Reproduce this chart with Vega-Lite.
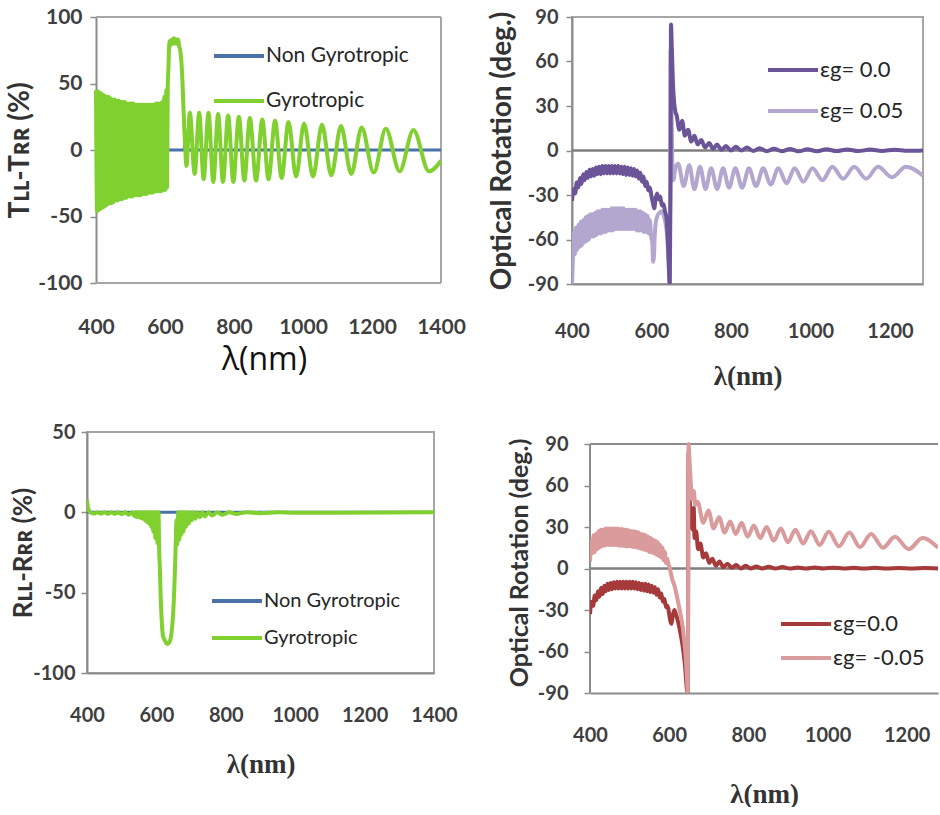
{
"$schema":"https://vega.github.io/schema/vega-lite/v6.json",
"background":"white",
"padding":{"left":6,"top":6,"right":0,"bottom":0},
"config":{
 "font":"Lato",
 "view":{"stroke":"#a6a6a6","strokeWidth":2},
 "axis":{"grid":false,"domainColor":"#8c8c8c","domainWidth":2,"tickColor":"#8c8c8c","tickWidth":1.5,"labelFont":"Lato","labelFontWeight":"bold","labelColor":"#3f3f3f","titleColor":"#333333","titleFont":"Lato","labelExpr":"'' + datum.value"},
 "legend":{"labelFont":"Lato","labelColor":"#262626"},
 "line":{"strokeJoin":"round"}
},
"datasets":{
"p1n":[{"x":400,"y":0,"s":"N"},{"x":656,"y":0,"s":"N"},{"x":657.5,"y":15,"s":"N"},{"x":659,"y":0,"s":"N"},{"x":1400,"y":0,"s":"N"}],
"p1g":[{"x":400,"y":45,"s":"G"},{"x":403,"y":-46,"s":"G"},{"x":406,"y":44,"s":"G"},{"x":409,"y":-45,"s":"G"},{"x":412,"y":43,"s":"G"},{"x":415,"y":-44,"s":"G"},{"x":418,"y":42,"s":"G"},{"x":421,"y":-43,"s":"G"},{"x":424,"y":41,"s":"G"},{"x":427,"y":-42,"s":"G"},{"x":430,"y":40,"s":"G"},{"x":433,"y":-41,"s":"G"},{"x":436,"y":40,"s":"G"},{"x":439,"y":-40,"s":"G"},{"x":442,"y":39,"s":"G"},{"x":445,"y":-40,"s":"G"},{"x":448,"y":38,"s":"G"},{"x":451,"y":-39,"s":"G"},{"x":454,"y":38,"s":"G"},{"x":457,"y":-38,"s":"G"},{"x":460,"y":37,"s":"G"},{"x":463,"y":-38,"s":"G"},{"x":466,"y":37,"s":"G"},{"x":469,"y":-37,"s":"G"},{"x":472,"y":36,"s":"G"},{"x":475,"y":-37,"s":"G"},{"x":478,"y":36,"s":"G"},{"x":481,"y":-36,"s":"G"},{"x":484,"y":36,"s":"G"},{"x":487,"y":-36,"s":"G"},{"x":490,"y":35,"s":"G"},{"x":493,"y":-35,"s":"G"},{"x":496,"y":35,"s":"G"},{"x":499,"y":-35,"s":"G"},{"x":502,"y":35,"s":"G"},{"x":505,"y":-35,"s":"G"},{"x":508,"y":35,"s":"G"},{"x":511,"y":-34,"s":"G"},{"x":514,"y":34,"s":"G"},{"x":517,"y":-34,"s":"G"},{"x":520,"y":34,"s":"G"},{"x":523,"y":-34,"s":"G"},{"x":526,"y":34,"s":"G"},{"x":529,"y":-34,"s":"G"},{"x":532,"y":34,"s":"G"},{"x":535,"y":-33,"s":"G"},{"x":538,"y":34,"s":"G"},{"x":541,"y":-33,"s":"G"},{"x":544,"y":34,"s":"G"},{"x":547,"y":-33,"s":"G"},{"x":550,"y":34,"s":"G"},{"x":553,"y":-32,"s":"G"},{"x":556,"y":34,"s":"G"},{"x":559,"y":-32,"s":"G"},{"x":562,"y":34,"s":"G"},{"x":565,"y":-32,"s":"G"},{"x":568,"y":34,"s":"G"},{"x":571,"y":-31,"s":"G"},{"x":574,"y":35,"s":"G"},{"x":577,"y":-31,"s":"G"},{"x":580,"y":35,"s":"G"},{"x":583,"y":-31,"s":"G"},{"x":586,"y":35,"s":"G"},{"x":589,"y":-31,"s":"G"},{"x":592,"y":36,"s":"G"},{"x":595,"y":-30,"s":"G"},{"x":598,"y":40,"s":"G"},{"x":601,"y":-30,"s":"G"},{"x":604,"y":45,"s":"G"},{"x":606,"y":-28,"s":"G"},{"x":608,"y":48,"s":"G"},{"x":610,"y":62,"s":"G"},{"x":612,"y":78,"s":"G"},{"x":614,"y":82,"s":"G"},{"x":617,"y":79,"s":"G"},{"x":620,"y":83,"s":"G"},{"x":623,"y":80,"s":"G"},{"x":626,"y":84,"s":"G"},{"x":629,"y":80,"s":"G"},{"x":632,"y":83,"s":"G"},{"x":635,"y":80,"s":"G"},{"x":638,"y":83,"s":"G"},{"x":641,"y":78,"s":"G"},{"x":644,"y":75,"s":"G"},{"x":647,"y":68,"s":"G"},{"x":650,"y":55,"s":"G"},{"x":653,"y":35,"s":"G"},{"x":656,"y":15,"s":"G"},{"x":659,"y":0,"s":"G"},{"x":662,"y":-12,"s":"G"},{"x":672,"y":28,"s":"G"},{"x":686,"y":-18,"s":"G"},{"x":699,"y":28,"s":"G"},{"x":712,"y":-22,"s":"G"},{"x":726,"y":28,"s":"G"},{"x":740,"y":-24,"s":"G"},{"x":754,"y":27,"s":"G"},{"x":768,"y":-24,"s":"G"},{"x":783,"y":26,"s":"G"},{"x":798,"y":-24,"s":"G"},{"x":814,"y":25,"s":"G"},{"x":830,"y":-23,"s":"G"},{"x":846,"y":24,"s":"G"},{"x":864,"y":-23,"s":"G"},{"x":882,"y":23,"s":"G"},{"x":900,"y":-22,"s":"G"},{"x":919,"y":22,"s":"G"},{"x":938,"y":-21,"s":"G"},{"x":958,"y":21,"s":"G"},{"x":980,"y":-20,"s":"G"},{"x":1003,"y":20,"s":"G"},{"x":1029,"y":-20,"s":"G"},{"x":1055,"y":19,"s":"G"},{"x":1082,"y":-19,"s":"G"},{"x":1110,"y":18,"s":"G"},{"x":1140,"y":-18,"s":"G"},{"x":1170,"y":17,"s":"G"},{"x":1205,"y":-17,"s":"G"},{"x":1240,"y":16,"s":"G"},{"x":1280,"y":-16,"s":"G"},{"x":1320,"y":15,"s":"G"},{"x":1365,"y":-16,"s":"G"},{"x":1400,"y":-8,"s":"G"}],
"p3n":[{"x":400,"y":0,"s":"N"},{"x":1400,"y":0,"s":"N"}],
"p3g":[{"x":400,"y":8,"s":"G"},{"x":402,"y":4,"s":"G"},{"x":405,"y":1.5,"s":"G"},{"x":410,"y":0,"s":"G"},{"x":420,"y":-0.8,"s":"G"},{"x":430,"y":0,"s":"G"},{"x":440,"y":-0.8,"s":"G"},{"x":450,"y":0,"s":"G"},{"x":460,"y":-1,"s":"G"},{"x":470,"y":0,"s":"G"},{"x":480,"y":-1,"s":"G"},{"x":490,"y":0,"s":"G"},{"x":500,"y":-1.2,"s":"G"},{"x":510,"y":0,"s":"G"},{"x":520,"y":-1.5,"s":"G"},{"x":530,"y":0,"s":"G"},{"x":537,"y":-2.5,"s":"G"},{"x":540,"y":0,"s":"G"},{"x":543,"y":-3,"s":"G"},{"x":546,"y":0,"s":"G"},{"x":549,"y":-3,"s":"G"},{"x":552,"y":0,"s":"G"},{"x":555,"y":-3.5,"s":"G"},{"x":558,"y":0,"s":"G"},{"x":561,"y":-4,"s":"G"},{"x":564,"y":0,"s":"G"},{"x":567,"y":-5,"s":"G"},{"x":570,"y":0,"s":"G"},{"x":573,"y":-6,"s":"G"},{"x":576,"y":0,"s":"G"},{"x":579,"y":-7,"s":"G"},{"x":582,"y":0,"s":"G"},{"x":585,"y":-9,"s":"G"},{"x":588,"y":0,"s":"G"},{"x":591,"y":-12,"s":"G"},{"x":594,"y":0,"s":"G"},{"x":597,"y":-16,"s":"G"},{"x":600,"y":0,"s":"G"},{"x":603,"y":-19,"s":"G"},{"x":606,"y":0,"s":"G"},{"x":608,"y":-24,"s":"G"},{"x":610,"y":-35,"s":"G"},{"x":612,"y":-50,"s":"G"},{"x":615,"y":-66,"s":"G"},{"x":619,"y":-77,"s":"G"},{"x":625,"y":-80,"s":"G"},{"x":631,"y":-82,"s":"G"},{"x":637,"y":-81,"s":"G"},{"x":643,"y":-76,"s":"G"},{"x":648,"y":-64,"s":"G"},{"x":652,"y":-45,"s":"G"},{"x":655,"y":-25,"s":"G"},{"x":658,"y":-5,"s":"G"},{"x":660,"y":-20,"s":"G"},{"x":663,"y":0,"s":"G"},{"x":666,"y":-17,"s":"G"},{"x":669,"y":0,"s":"G"},{"x":672,"y":-14,"s":"G"},{"x":675,"y":0,"s":"G"},{"x":678,"y":-12,"s":"G"},{"x":681,"y":0,"s":"G"},{"x":685,"y":-9,"s":"G"},{"x":689,"y":0,"s":"G"},{"x":693,"y":-7,"s":"G"},{"x":697,"y":0,"s":"G"},{"x":702,"y":-5,"s":"G"},{"x":707,"y":0,"s":"G"},{"x":712,"y":-4,"s":"G"},{"x":718,"y":0,"s":"G"},{"x":725,"y":-3,"s":"G"},{"x":732,"y":0,"s":"G"},{"x":740,"y":-2.5,"s":"G"},{"x":750,"y":0,"s":"G"},{"x":760,"y":-2,"s":"G"},{"x":775,"y":0,"s":"G"},{"x":790,"y":-1.5,"s":"G"},{"x":810,"y":0,"s":"G"},{"x":830,"y":-1,"s":"G"},{"x":860,"y":0,"s":"G"},{"x":900,"y":-0.6,"s":"G"},{"x":950,"y":0,"s":"G"},{"x":1000,"y":-0.3,"s":"G"},{"x":1400,"y":0,"s":"G"}],
"p2a":[{"x":400,"y":-34,"s":"a"},{"x":404,"y":-26,"s":"a"},{"x":408,"y":-29,"s":"a"},{"x":412,"y":-21.5,"s":"a"},{"x":416,"y":-25,"s":"a"},{"x":420,"y":-18.5,"s":"a"},{"x":424,"y":-22.5,"s":"a"},{"x":428,"y":-16,"s":"a"},{"x":432,"y":-20,"s":"a"},{"x":436,"y":-14.5,"s":"a"},{"x":440,"y":-18.5,"s":"a"},{"x":444,"y":-13,"s":"a"},{"x":448,"y":-17.5,"s":"a"},{"x":452,"y":-12.5,"s":"a"},{"x":456,"y":-17,"s":"a"},{"x":460,"y":-11.5,"s":"a"},{"x":464,"y":-16,"s":"a"},{"x":468,"y":-11,"s":"a"},{"x":472,"y":-16,"s":"a"},{"x":476,"y":-10.5,"s":"a"},{"x":480,"y":-15.5,"s":"a"},{"x":484,"y":-10.5,"s":"a"},{"x":488,"y":-15.5,"s":"a"},{"x":492,"y":-10.5,"s":"a"},{"x":496,"y":-15.5,"s":"a"},{"x":500,"y":-10.5,"s":"a"},{"x":504,"y":-15.5,"s":"a"},{"x":508,"y":-10.5,"s":"a"},{"x":512,"y":-15.5,"s":"a"},{"x":516,"y":-10.5,"s":"a"},{"x":520,"y":-15.5,"s":"a"},{"x":524,"y":-11,"s":"a"},{"x":528,"y":-16,"s":"a"},{"x":532,"y":-11,"s":"a"},{"x":536,"y":-16.5,"s":"a"},{"x":540,"y":-11.5,"s":"a"},{"x":544,"y":-16.5,"s":"a"},{"x":548,"y":-12,"s":"a"},{"x":552,"y":-17,"s":"a"},{"x":556,"y":-12.5,"s":"a"},{"x":560,"y":-17.5,"s":"a"},{"x":564,"y":-13.5,"s":"a"},{"x":568,"y":-19,"s":"a"},{"x":572,"y":-15,"s":"a"},{"x":576,"y":-21,"s":"a"},{"x":580,"y":-17.5,"s":"a"},{"x":584,"y":-24,"s":"a"},{"x":588,"y":-21,"s":"a"},{"x":592,"y":-27,"s":"a"},{"x":596,"y":-25,"s":"a"},{"x":600,"y":-31,"s":"a"},{"x":604,"y":-36,"s":"a"},{"x":607,"y":-39,"s":"a"},{"x":610,"y":-33,"s":"a"},{"x":614,"y":-29,"s":"a"},{"x":618,"y":-33,"s":"a"},{"x":622,"y":-31,"s":"a"},{"x":626,"y":-37,"s":"a"},{"x":630,"y":-36,"s":"a"},{"x":634,"y":-41,"s":"a"},{"x":638,"y":-46,"s":"a"},{"x":641,"y":-60,"s":"a"},{"x":644,"y":-80,"s":"a"},{"x":646,"y":-90,"s":"a"},{"x":648,"y":-20,"s":"a"},{"x":649,"y":85,"s":"a"},{"x":651,"y":70,"s":"a"},{"x":654,"y":45,"s":"a"},{"x":657,"y":32,"s":"a"},{"x":660,"y":26,"s":"a"},{"x":663,"y":24,"s":"a"},{"x":670,"y":14,"s":"a"},{"x":677,"y":20,"s":"a"},{"x":684,"y":10,"s":"a"},{"x":692,"y":14,"s":"a"},{"x":700,"y":6,"s":"a"},{"x":708,"y":10,"s":"a"},{"x":716,"y":4,"s":"a"},{"x":725,"y":7,"s":"a"},{"x":735,"y":2,"s":"a"},{"x":745,"y":5,"s":"a"},{"x":755,"y":1,"s":"a"},{"x":765,"y":4,"s":"a"},{"x":776,"y":0.5,"s":"a"},{"x":787,"y":3,"s":"a"},{"x":800,"y":0,"s":"a"},{"x":812,"y":2.5,"s":"a"},{"x":826,"y":0,"s":"a"},{"x":840,"y":2,"s":"a"},{"x":856,"y":-0.3,"s":"a"},{"x":872,"y":1.5,"s":"a"},{"x":890,"y":-0.5,"s":"a"},{"x":908,"y":1.2,"s":"a"},{"x":928,"y":-0.5,"s":"a"},{"x":948,"y":1,"s":"a"},{"x":970,"y":-0.5,"s":"a"},{"x":992,"y":0.8,"s":"a"},{"x":1016,"y":-0.5,"s":"a"},{"x":1040,"y":0.8,"s":"a"},{"x":1066,"y":-0.4,"s":"a"},{"x":1092,"y":0.7,"s":"a"},{"x":1120,"y":-0.4,"s":"a"},{"x":1150,"y":0.6,"s":"a"},{"x":1180,"y":-0.3,"s":"a"},{"x":1212,"y":0.5,"s":"a"},{"x":1245,"y":-0.2,"s":"a"},{"x":1283,"y":0,"s":"a"}],
"p2b":[{"x":400,"y":-90,"s":"b"},{"x":402,"y":-76,"s":"b"},{"x":404,"y":-56,"s":"b"},{"x":407,"y":-70,"s":"b"},{"x":410,"y":-52,"s":"b"},{"x":413,"y":-67,"s":"b"},{"x":416,"y":-50,"s":"b"},{"x":419,"y":-65,"s":"b"},{"x":422,"y":-48,"s":"b"},{"x":425,"y":-64,"s":"b"},{"x":428,"y":-47,"s":"b"},{"x":431,"y":-62,"s":"b"},{"x":434,"y":-45,"s":"b"},{"x":437,"y":-61,"s":"b"},{"x":440,"y":-44,"s":"b"},{"x":443,"y":-60,"s":"b"},{"x":446,"y":-43,"s":"b"},{"x":449,"y":-58,"s":"b"},{"x":452,"y":-43,"s":"b"},{"x":455,"y":-58,"s":"b"},{"x":458,"y":-42,"s":"b"},{"x":461,"y":-57,"s":"b"},{"x":464,"y":-41,"s":"b"},{"x":467,"y":-56,"s":"b"},{"x":470,"y":-41,"s":"b"},{"x":473,"y":-56,"s":"b"},{"x":476,"y":-40,"s":"b"},{"x":479,"y":-55,"s":"b"},{"x":482,"y":-40,"s":"b"},{"x":485,"y":-55,"s":"b"},{"x":488,"y":-40,"s":"b"},{"x":491,"y":-54,"s":"b"},{"x":494,"y":-40,"s":"b"},{"x":497,"y":-54,"s":"b"},{"x":500,"y":-39,"s":"b"},{"x":503,"y":-54,"s":"b"},{"x":506,"y":-39,"s":"b"},{"x":509,"y":-53,"s":"b"},{"x":512,"y":-39,"s":"b"},{"x":515,"y":-53,"s":"b"},{"x":518,"y":-39,"s":"b"},{"x":521,"y":-53,"s":"b"},{"x":524,"y":-39,"s":"b"},{"x":527,"y":-53,"s":"b"},{"x":530,"y":-39,"s":"b"},{"x":533,"y":-53,"s":"b"},{"x":536,"y":-40,"s":"b"},{"x":539,"y":-53,"s":"b"},{"x":542,"y":-40,"s":"b"},{"x":545,"y":-53,"s":"b"},{"x":548,"y":-40,"s":"b"},{"x":551,"y":-53,"s":"b"},{"x":554,"y":-40,"s":"b"},{"x":557,"y":-53,"s":"b"},{"x":560,"y":-40,"s":"b"},{"x":563,"y":-54,"s":"b"},{"x":566,"y":-41,"s":"b"},{"x":569,"y":-54,"s":"b"},{"x":572,"y":-41,"s":"b"},{"x":575,"y":-54,"s":"b"},{"x":578,"y":-42,"s":"b"},{"x":581,"y":-55,"s":"b"},{"x":584,"y":-43,"s":"b"},{"x":587,"y":-55,"s":"b"},{"x":590,"y":-44,"s":"b"},{"x":593,"y":-56,"s":"b"},{"x":596,"y":-47,"s":"b"},{"x":599,"y":-58,"s":"b"},{"x":602,"y":-62,"s":"b"},{"x":604,"y":-75,"s":"b"},{"x":606,"y":-72,"s":"b"},{"x":608,"y":-58,"s":"b"},{"x":611,"y":-48,"s":"b"},{"x":615,"y":-44,"s":"b"},{"x":620,"y":-42,"s":"b"},{"x":626,"y":-41,"s":"b"},{"x":631,"y":-44,"s":"b"},{"x":636,"y":-50,"s":"b"},{"x":640,"y":-60,"s":"b"},{"x":643,"y":-75,"s":"b"},{"x":645,"y":-90,"s":"b"},{"x":647,"y":-30,"s":"b"},{"x":648,"y":68,"s":"b"},{"x":650,"y":40,"s":"b"},{"x":652,"y":-5,"s":"b"},{"x":655,"y":-20,"s":"b"},{"x":660,"y":-12,"s":"b"},{"x":667,"y":-9,"s":"b"},{"x":681,"y":-24,"s":"b"},{"x":695,"y":-10,"s":"b"},{"x":708,"y":-26,"s":"b"},{"x":722,"y":-11,"s":"b"},{"x":736,"y":-26,"s":"b"},{"x":750,"y":-12,"s":"b"},{"x":765,"y":-26,"s":"b"},{"x":780,"y":-12,"s":"b"},{"x":795,"y":-25,"s":"b"},{"x":811,"y":-12,"s":"b"},{"x":828,"y":-25,"s":"b"},{"x":845,"y":-12,"s":"b"},{"x":863,"y":-24,"s":"b"},{"x":881,"y":-12,"s":"b"},{"x":900,"y":-23,"s":"b"},{"x":919,"y":-12,"s":"b"},{"x":940,"y":-22,"s":"b"},{"x":960,"y":-12,"s":"b"},{"x":982,"y":-21,"s":"b"},{"x":1005,"y":-12,"s":"b"},{"x":1030,"y":-20,"s":"b"},{"x":1055,"y":-11,"s":"b"},{"x":1082,"y":-19,"s":"b"},{"x":1110,"y":-11,"s":"b"},{"x":1140,"y":-19,"s":"b"},{"x":1170,"y":-11,"s":"b"},{"x":1205,"y":-18,"s":"b"},{"x":1240,"y":-11,"s":"b"},{"x":1283,"y":-17,"s":"b"}],
"p4a":[{"x":400,"y":-33,"s":"a"},{"x":404,"y":-24,"s":"a"},{"x":408,"y":-27,"s":"a"},{"x":412,"y":-19.5,"s":"a"},{"x":416,"y":-23,"s":"a"},{"x":420,"y":-16.5,"s":"a"},{"x":424,"y":-20.5,"s":"a"},{"x":428,"y":-14,"s":"a"},{"x":432,"y":-18.5,"s":"a"},{"x":436,"y":-12.5,"s":"a"},{"x":440,"y":-16.5,"s":"a"},{"x":444,"y":-11,"s":"a"},{"x":448,"y":-15.5,"s":"a"},{"x":452,"y":-10.5,"s":"a"},{"x":456,"y":-15,"s":"a"},{"x":460,"y":-10,"s":"a"},{"x":464,"y":-14.5,"s":"a"},{"x":468,"y":-9.5,"s":"a"},{"x":472,"y":-14.5,"s":"a"},{"x":476,"y":-9.5,"s":"a"},{"x":480,"y":-14.5,"s":"a"},{"x":484,"y":-9.5,"s":"a"},{"x":488,"y":-14.5,"s":"a"},{"x":492,"y":-9.5,"s":"a"},{"x":496,"y":-14.5,"s":"a"},{"x":500,"y":-9.5,"s":"a"},{"x":504,"y":-14.5,"s":"a"},{"x":508,"y":-9.5,"s":"a"},{"x":512,"y":-14.5,"s":"a"},{"x":516,"y":-10,"s":"a"},{"x":520,"y":-15,"s":"a"},{"x":524,"y":-10.5,"s":"a"},{"x":528,"y":-15.5,"s":"a"},{"x":532,"y":-11,"s":"a"},{"x":536,"y":-16,"s":"a"},{"x":540,"y":-11,"s":"a"},{"x":544,"y":-16.5,"s":"a"},{"x":548,"y":-11.5,"s":"a"},{"x":552,"y":-17,"s":"a"},{"x":556,"y":-12.5,"s":"a"},{"x":560,"y":-17.5,"s":"a"},{"x":564,"y":-13.5,"s":"a"},{"x":568,"y":-19,"s":"a"},{"x":572,"y":-15,"s":"a"},{"x":576,"y":-21,"s":"a"},{"x":580,"y":-18,"s":"a"},{"x":584,"y":-24,"s":"a"},{"x":588,"y":-22,"s":"a"},{"x":592,"y":-28,"s":"a"},{"x":596,"y":-27,"s":"a"},{"x":600,"y":-33,"s":"a"},{"x":603,"y":-38,"s":"a"},{"x":606,"y":-40,"s":"a"},{"x":609,"y":-34,"s":"a"},{"x":613,"y":-30,"s":"a"},{"x":617,"y":-33,"s":"a"},{"x":622,"y":-38,"s":"a"},{"x":628,"y":-46,"s":"a"},{"x":634,"y":-56,"s":"a"},{"x":640,"y":-70,"s":"a"},{"x":645,"y":-88,"s":"a"},{"x":647,"y":-90,"s":"a"},{"x":649,"y":85,"s":"a"},{"x":652,"y":50,"s":"a"},{"x":656,"y":32,"s":"a"},{"x":660,"y":28,"s":"a"},{"x":662,"y":44,"s":"a"},{"x":664,"y":22,"s":"a"},{"x":668,"y":27,"s":"a"},{"x":673,"y":14,"s":"a"},{"x":679,"y":18,"s":"a"},{"x":686,"y":8,"s":"a"},{"x":693,"y":11,"s":"a"},{"x":701,"y":4,"s":"a"},{"x":709,"y":7,"s":"a"},{"x":718,"y":2,"s":"a"},{"x":727,"y":5,"s":"a"},{"x":737,"y":1,"s":"a"},{"x":747,"y":3.5,"s":"a"},{"x":758,"y":0.5,"s":"a"},{"x":769,"y":2.5,"s":"a"},{"x":781,"y":0,"s":"a"},{"x":793,"y":2,"s":"a"},{"x":806,"y":0,"s":"a"},{"x":820,"y":1.5,"s":"a"},{"x":835,"y":0,"s":"a"},{"x":851,"y":1.2,"s":"a"},{"x":868,"y":0,"s":"a"},{"x":886,"y":1,"s":"a"},{"x":905,"y":0,"s":"a"},{"x":925,"y":0.8,"s":"a"},{"x":946,"y":0,"s":"a"},{"x":968,"y":0.7,"s":"a"},{"x":990,"y":0,"s":"a"},{"x":1015,"y":0.6,"s":"a"},{"x":1040,"y":0,"s":"a"},{"x":1066,"y":0.5,"s":"a"},{"x":1092,"y":0,"s":"a"},{"x":1120,"y":0.5,"s":"a"},{"x":1150,"y":0,"s":"a"},{"x":1180,"y":0.4,"s":"a"},{"x":1212,"y":0,"s":"a"},{"x":1245,"y":0.3,"s":"a"},{"x":1279,"y":0,"s":"a"}],
"p4b":[{"x":400,"y":5,"s":"b"},{"x":403,"y":20,"s":"b"},{"x":406,"y":11,"s":"b"},{"x":409,"y":24,"s":"b"},{"x":412,"y":12,"s":"b"},{"x":415,"y":25,"s":"b"},{"x":418,"y":14,"s":"b"},{"x":421,"y":27,"s":"b"},{"x":424,"y":15,"s":"b"},{"x":427,"y":28,"s":"b"},{"x":430,"y":16,"s":"b"},{"x":433,"y":28,"s":"b"},{"x":436,"y":16.5,"s":"b"},{"x":439,"y":29,"s":"b"},{"x":442,"y":17,"s":"b"},{"x":445,"y":29,"s":"b"},{"x":448,"y":17,"s":"b"},{"x":451,"y":29,"s":"b"},{"x":454,"y":17,"s":"b"},{"x":457,"y":29,"s":"b"},{"x":460,"y":17,"s":"b"},{"x":463,"y":29,"s":"b"},{"x":466,"y":17,"s":"b"},{"x":469,"y":29,"s":"b"},{"x":472,"y":16.5,"s":"b"},{"x":475,"y":28.5,"s":"b"},{"x":478,"y":16.5,"s":"b"},{"x":481,"y":28.5,"s":"b"},{"x":484,"y":16.5,"s":"b"},{"x":487,"y":28,"s":"b"},{"x":490,"y":16,"s":"b"},{"x":493,"y":28,"s":"b"},{"x":496,"y":16,"s":"b"},{"x":499,"y":27.5,"s":"b"},{"x":502,"y":16,"s":"b"},{"x":505,"y":27,"s":"b"},{"x":508,"y":15.5,"s":"b"},{"x":511,"y":27,"s":"b"},{"x":514,"y":15.5,"s":"b"},{"x":517,"y":26.5,"s":"b"},{"x":520,"y":15,"s":"b"},{"x":523,"y":26,"s":"b"},{"x":526,"y":14.5,"s":"b"},{"x":529,"y":25,"s":"b"},{"x":532,"y":14,"s":"b"},{"x":535,"y":24.5,"s":"b"},{"x":538,"y":13.5,"s":"b"},{"x":541,"y":24,"s":"b"},{"x":544,"y":13,"s":"b"},{"x":547,"y":23,"s":"b"},{"x":550,"y":12,"s":"b"},{"x":553,"y":22,"s":"b"},{"x":556,"y":11.5,"s":"b"},{"x":559,"y":21,"s":"b"},{"x":562,"y":11,"s":"b"},{"x":565,"y":20,"s":"b"},{"x":568,"y":10,"s":"b"},{"x":571,"y":19,"s":"b"},{"x":574,"y":9,"s":"b"},{"x":577,"y":17,"s":"b"},{"x":580,"y":8,"s":"b"},{"x":583,"y":15,"s":"b"},{"x":586,"y":6,"s":"b"},{"x":589,"y":12,"s":"b"},{"x":592,"y":4,"s":"b"},{"x":595,"y":7,"s":"b"},{"x":598,"y":3,"s":"b"},{"x":601,"y":1,"s":"b"},{"x":604,"y":-3,"s":"b"},{"x":608,"y":-8,"s":"b"},{"x":613,"y":-12,"s":"b"},{"x":618,"y":-18,"s":"b"},{"x":623,"y":-25,"s":"b"},{"x":628,"y":-32,"s":"b"},{"x":633,"y":-40,"s":"b"},{"x":638,"y":-52,"s":"b"},{"x":642,"y":-65,"s":"b"},{"x":645,"y":-80,"s":"b"},{"x":647,"y":-90,"s":"b"},{"x":649,"y":90,"s":"b"},{"x":651,"y":80,"s":"b"},{"x":655,"y":60,"s":"b"},{"x":658,"y":50,"s":"b"},{"x":662,"y":56,"s":"b"},{"x":666,"y":46,"s":"b"},{"x":672,"y":48,"s":"b"},{"x":686,"y":33,"s":"b"},{"x":699,"y":42,"s":"b"},{"x":712,"y":29,"s":"b"},{"x":726,"y":37,"s":"b"},{"x":740,"y":26,"s":"b"},{"x":754,"y":34,"s":"b"},{"x":768,"y":25,"s":"b"},{"x":783,"y":33,"s":"b"},{"x":798,"y":23,"s":"b"},{"x":814,"y":31,"s":"b"},{"x":830,"y":22,"s":"b"},{"x":846,"y":30,"s":"b"},{"x":864,"y":20,"s":"b"},{"x":882,"y":29,"s":"b"},{"x":900,"y":19,"s":"b"},{"x":919,"y":28,"s":"b"},{"x":938,"y":18,"s":"b"},{"x":958,"y":27,"s":"b"},{"x":980,"y":17,"s":"b"},{"x":1003,"y":26.5,"s":"b"},{"x":1029,"y":16,"s":"b"},{"x":1055,"y":26,"s":"b"},{"x":1082,"y":15.5,"s":"b"},{"x":1110,"y":25,"s":"b"},{"x":1140,"y":15,"s":"b"},{"x":1170,"y":23,"s":"b"},{"x":1205,"y":14,"s":"b"},{"x":1240,"y":22,"s":"b"},{"x":1279,"y":15,"s":"b"}]
},
"spacing":31,
"resolve":{"scale":{"color":"independent"},"legend":{"color":"independent"}},
"vconcat":[
{"spacing":21,"resolve":{"scale":{"color":"independent"},"legend":{"color":"independent"}},
 "hconcat":[
 {"width":354,"height":266,"view":{"stroke":null},
  "encoding":{
   "x":{"field":"x","type":"quantitative","scale":{"domain":[373.9,1400],"nice":false,"zero":false},"axis":{"values":[400,600,800,1000,1200,1400],"title":"λ(nm)","titleFont":"Open Sans","titleFontSize":32,"titleFontWeight":"normal","titleColor":"#111111","titlePadding":7,"labelFontSize":21,"labelPadding":33,"ticks":false,"domain":false,"labelFlush":false}},
   "y":{"field":"y","type":"quantitative","scale":{"domain":[-100,100],"nice":false},"axis":{"values":[-100,-50,0,50,100],"title":"Tʟʟ-Tʀʀ (%)","titleFontSize":28,"titleFontWeight":"bold","titlePadding":3,"labelFontSize":21,"labelPadding":8,"tickSize":6,"offset":-9}}
  },
  "layer":[
   {"data":{"values":[{"x":400,"x2":1400,"y":100},{"x":400,"x2":1400,"y":-100}]},"mark":{"type":"rule","color":"#a6a6a6","strokeWidth":2},"encoding":{"x2":{"field":"x2"}}},
   {"data":{"values":[{"x":1400,"y":-100,"y2":100}]},"mark":{"type":"rule","color":"#a6a6a6","strokeWidth":2},"encoding":{"y2":{"field":"y2"}}},
   {"data":{"name":"p1n"},"mark":{"type":"line","strokeWidth":3},
    "encoding":{"color":{"field":"s","type":"nominal","scale":{"domain":["N","G"],"range":["#4a72a8","#80d030"]},"legend":{"orient":"none","legendX":140,"legendY":27,"title":null,"symbolType":"M-2.5,0H2.5","symbolSize":400,"symbolStrokeWidth":4,"labelFontSize":21,"labelOffset":15,"rowPadding":23,"padding":0,"labelExpr":"datum.label == 'N' ? 'Non Gyrotropic' : 'Gyrotropic'"}}}},
   {"data":{"name":"p1g"},"mark":{"type":"line","strokeWidth":4,"interpolate":"monotone","clip":true},
    "encoding":{"color":{"field":"s","type":"nominal","scale":{"domain":["N","G"],"range":["#4a72a8","#80d030"]},"legend":{"orient":"none","legendX":140,"legendY":27,"title":null,"symbolType":"M-2.5,0H2.5","symbolSize":400,"symbolStrokeWidth":4,"labelFontSize":21,"labelOffset":15,"rowPadding":23,"padding":0,"labelExpr":"datum.label == 'N' ? 'Non Gyrotropic' : 'Gyrotropic'"}}}}
  ]},
 {"width":351,"height":267,
  "encoding":{
   "y":{"field":"y","type":"quantitative","scale":{"domain":[-90,90],"nice":false},"axis":{"values":[-90,-60,-30,0,30,60,90],"title":"Optical Rotation (deg.)","titleFontSize":28,"titleFontWeight":"bold","titlePadding":11,"labelFontSize":20,"labelPadding":8,"tickSize":6}}
  },
  "layer":[
   {"data":{"values":[{"y":0}]},"mark":{"type":"rule","color":"#7f7f7f","strokeWidth":2.5}},
   {"data":{"name":"p2b"},"mark":{"type":"line","strokeWidth":4,"interpolate":"monotone","clip":true},
    "encoding":{
     "x":{"field":"x","type":"quantitative","scale":{"domain":[400,1283],"nice":false,"zero":false},"axis":{"values":[400,600,800,1000,1200],"title":"λ(nm)","titleFont":"Liberation Serif","titleFontSize":27,"titleFontWeight":"bold","titleColor":"#333333","titlePadding":22,"labelFontSize":20,"labelPadding":37,"ticks":false,"labelFlush":false}},
     "color":{"field":"s","type":"nominal","scale":{"domain":["a","b"],"range":["#6b5598","#b3a6cf"]},"legend":{"orient":"none","legendX":209,"legendY":41,"title":null,"symbolType":"M-2.5,0H2.5","symbolSize":400,"symbolStrokeWidth":4,"labelFontSize":22,"labelOffset":15,"rowPadding":18,"padding":0,"labelExpr":"datum.label == 'a' ? 'εg= 0.0' : 'εg= 0.05'"}}
    }},
   {"data":{"name":"p2a"},"mark":{"type":"line","strokeWidth":4,"interpolate":"monotone","clip":true},
    "encoding":{
     "x":{"field":"x","type":"quantitative","scale":{"domain":[400,1283],"nice":false,"zero":false},"axis":{"values":[400,600,800,1000,1200],"title":"λ(nm)","titleFont":"Liberation Serif","titleFontSize":27,"titleFontWeight":"bold","titleColor":"#333333","titlePadding":22,"labelFontSize":20,"labelPadding":37,"ticks":false,"labelFlush":false}},
     "color":{"field":"s","type":"nominal","scale":{"domain":["a","b"],"range":["#6b5598","#b3a6cf"]},"legend":{"orient":"none","legendX":209,"legendY":41,"title":null,"symbolType":"M-2.5,0H2.5","symbolSize":400,"symbolStrokeWidth":4,"labelFontSize":22,"labelOffset":15,"rowPadding":18,"padding":0,"labelExpr":"datum.label == 'a' ? 'εg= 0.0' : 'εg= 0.05'"}}
    }}
  ]}
 ]},
{"spacing":48,"resolve":{"scale":{"color":"independent"},"legend":{"color":"independent"}},
 "hconcat":[
 {"width":347,"height":241,
  "encoding":{
   "x":{"field":"x","type":"quantitative","scale":{"domain":[400,1400],"nice":false,"zero":false},"axis":{"values":[400,600,800,1000,1200,1400],"title":"λ(nm)","titleFont":"Liberation Serif","titleFontSize":27,"titleFontWeight":"bold","titleColor":"#333333","titlePadding":26,"labelFontSize":20,"labelPadding":32,"ticks":false,"labelFlush":false}},
   "y":{"field":"y","type":"quantitative","scale":{"domain":[-100,50],"nice":false},"axis":{"values":[-100,-50,0,50],"title":"Rʟʟ-Rʀʀ (%)","titleFontSize":26,"titleFontWeight":"bold","titlePadding":-4,"labelFontSize":20,"labelPadding":6,"tickSize":6}},
   "color":{"field":"s","type":"nominal","scale":{"domain":["N","G"],"range":["#4a72a8","#80d030"]},"legend":{"orient":"none","legendX":138,"legendY":157,"title":null,"symbolType":"M-2.5,0H2.5","symbolSize":400,"symbolStrokeWidth":4,"labelFontSize":20,"labelOffset":15,"rowPadding":15,"padding":0,"labelExpr":"datum.label == 'N' ? 'Non Gyrotropic' : 'Gyrotropic'"}}
  },
  "layer":[
   {"data":{"name":"p3n"},"mark":{"type":"line","strokeWidth":3}},
   {"data":{"name":"p3g"},"mark":{"type":"line","strokeWidth":4,"interpolate":"monotone","clip":true}}
  ]},
 {"width":348,"height":261,"view":{"stroke":null},
  "encoding":{
   "x":{"field":"x","type":"quantitative","scale":{"domain":[400,1279],"nice":false,"zero":false},"axis":{"values":[400,600,800,1000,1200],"title":"λ(nm)","titleFont":"Liberation Serif","titleFontSize":27,"titleFontWeight":"bold","titleColor":"#333333","titlePadding":36,"labelFontSize":20,"labelPadding":32,"ticks":false,"labelFlush":false}},
   "y":{"field":"y","type":"quantitative","scale":{"domain":[-90,98.68],"nice":false,"zero":false},"axis":{"values":[-90,-60,-30,0,30,60,90],"title":"Optical Rotation (deg.)","titleFontSize":25,"titleFontWeight":"bold","titlePadding":5,"labelFontSize":20,"labelPadding":16,"tickSize":6,"domain":false}}
  },
  "layer":[
   {"data":{"values":[{"x":400,"x2":1279,"y":0}]},"mark":{"type":"rule","color":"#7f7f7f","strokeWidth":2.5},"encoding":{"x2":{"field":"x2"}}},
   {"data":{"values":[{"x":400,"x2":1279,"y":90}]},"mark":{"type":"rule","color":"#8c8c8c","strokeWidth":2},"encoding":{"x2":{"field":"x2"}}},
   {"data":{"values":[{"x":400,"y":-90,"y2":90}]},"mark":{"type":"rule","color":"#8c8c8c","strokeWidth":2},"encoding":{"y2":{"field":"y2"}}},
   {"data":{"name":"p4a"},"mark":{"type":"line","strokeWidth":4,"interpolate":"monotone","clip":true},
    "encoding":{"color":{"field":"s","type":"nominal","scale":{"domain":["a","b"],"range":["#a63a3a","#d99b9b"]},"legend":{"orient":"none","legendX":204,"legendY":180,"title":null,"symbolType":"M-2.5,0H2.5","symbolSize":400,"symbolStrokeWidth":4,"labelFontSize":22,"labelOffset":15,"rowPadding":11,"padding":0,"labelExpr":"datum.label == 'a' ? 'εg=0.0' : 'εg= -0.05'"}}}},
   {"data":{"name":"p4b"},"mark":{"type":"line","strokeWidth":4,"interpolate":"monotone","clip":true},
    "encoding":{"color":{"field":"s","type":"nominal","scale":{"domain":["a","b"],"range":["#a63a3a","#d99b9b"]},"legend":{"orient":"none","legendX":204,"legendY":180,"title":null,"symbolType":"M-2.5,0H2.5","symbolSize":400,"symbolStrokeWidth":4,"labelFontSize":22,"labelOffset":15,"rowPadding":11,"padding":0,"labelExpr":"datum.label == 'a' ? 'εg=0.0' : 'εg= -0.05'"}}}}
  ]}
 ]}
]
}
